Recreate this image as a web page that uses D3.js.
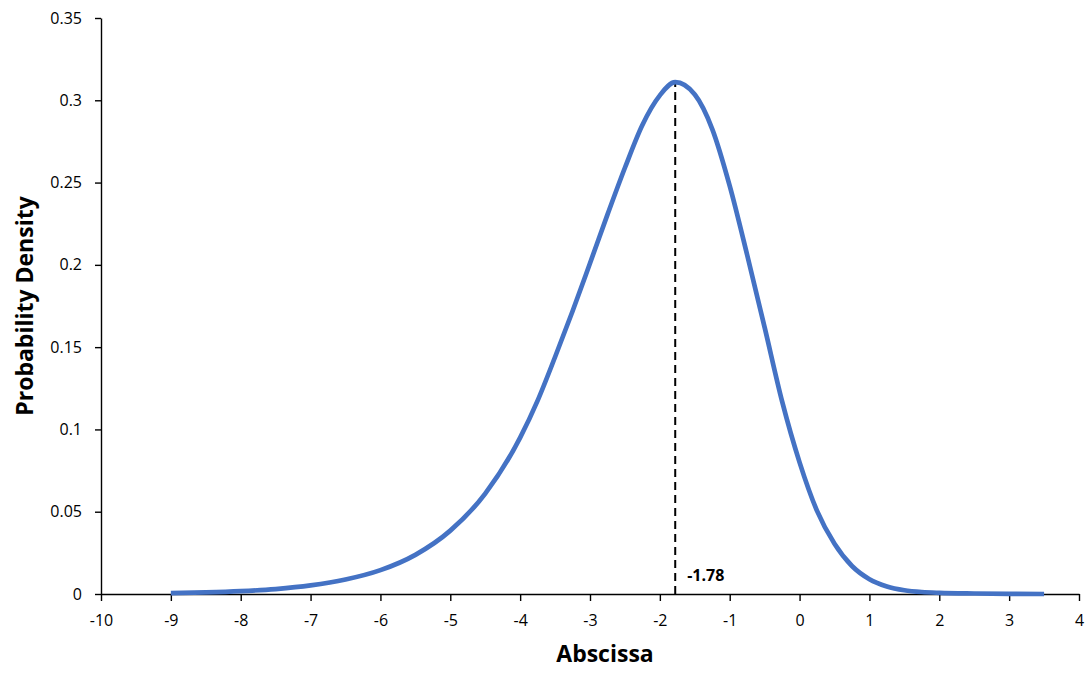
<!DOCTYPE html>
<html>
<head>
<meta charset="utf-8">
<script src="https://cdn.jsdelivr.net/npm/d3@7"></script>
<style>
  body { margin: 0; background: #fff; }
  svg { display: block; font-family: "Open Sans", sans-serif; }
  .axis path, .axis line { stroke: #000; stroke-width: 1.4; }
  .axis text { font-size: 16px; fill: #000; }
</style>
</head>
<body>
<svg id="chart" width="1090" height="673"></svg>
<script>
// values
var abscissa = [-9, -8.5, -8, -7.5, -7, -6.5, -6, -5.5, -5, -4.5, -4, -3.75, -3.5, -3.25,
    -3, -2.75, -2.5, -2.25, -2, -1.78, -1.5, -1.25, -1, -0.75, -0.5, -0.25,
    0, 0.25, 0.5, 0.75, 1, 1.25, 1.5, 1.75, 2, 2.5, 3, 3.5];
var density = [0.00053, 0.00095, 0.0017, 0.0030, 0.0052, 0.0088, 0.0145, 0.0238, 0.0385, 0.061, 0.095, 0.1175, 0.144, 0.1718,
    0.201, 0.2305, 0.259, 0.285, 0.303, 0.311, 0.3035, 0.2825, 0.248, 0.206, 0.162, 0.117,
    0.080, 0.0505, 0.0305, 0.017, 0.009, 0.0046, 0.0023, 0.0012, 0.0007, 0.0003, 0.0001, 0.0];

var modeX = -1.78;
var modeY = 0.311;
var modeLabel = "-1.78";

var xTicks = [-10, -9, -8, -7, -6, -5, -4, -3, -2, -1, 0, 1, 2, 3, 4];
var xTickLabels = ["-10", "-9", "-8", "-7", "-6", "-5", "-4", "-3", "-2", "-1", "0", "1", "2", "3", "4"];
var yTicks = [0, 0.05, 0.1, 0.15, 0.2, 0.25, 0.3, 0.35];
var yTickLabels = ["0", "0.05", "0.1", "0.15", "0.2", "0.25", "0.3", "0.35"];

var xTitle = "Abscissa";
var yTitle = "Probability Density";

var svg = d3.select("#chart");
var margin = {top: 18, right: 11, bottom: 79, left: 101};
var width = +svg.attr("width") - margin.left - margin.right;
var height = +svg.attr("height") - margin.top - margin.bottom;

var x = d3.scaleLinear().domain([-10, 4]).range([0, width]);
var y = d3.scaleLinear().domain([0, 0.35]).range([height, 0]);

var g = svg.append("g")
    .attr("transform", "translate(" + margin.left + "," + margin.top + ")");

var points = abscissa.map(function (v, i) { return {x: v, y: density[i]}; });

var line = d3.line()
    .x(function (d) { return x(d.x); })
    .y(function (d) { return y(d.y); })
    .curve(d3.curveMonotoneX);

// axes
g.append("g")
    .attr("class", "axis axis--x")
    .attr("transform", "translate(0," + height + ")")
    .call(d3.axisBottom(x)
        .tickValues(xTicks)
        .tickFormat(function (d, i) { return xTickLabels[i]; })
        .tickSize(7)
        .tickSizeOuter(0)
        .tickPadding(14));

g.append("g")
    .attr("class", "axis axis--y")
    .call(d3.axisLeft(y)
        .tickValues(yTicks)
        .tickFormat(function (d, i) { return yTickLabels[i]; })
        .tickSize(6)
        .tickSizeOuter(0)
        .tickPadding(13));

g.selectAll(".axis text").attr("font-family", "Open Sans, sans-serif");

// mode marker
g.append("line")
    .attr("x1", x(modeX))
    .attr("x2", x(modeX))
    .attr("y1", y(0))
    .attr("y2", y(modeY))
    .attr("stroke", "#000")
    .attr("stroke-width", 2)
    .attr("stroke-dasharray", "8,5");

g.append("path")
    .datum(points)
    .attr("fill", "none")
    .attr("stroke", "#4472C4")
    .attr("stroke-width", 4.7)
    .attr("stroke-linecap", "butt")
    .attr("d", line);

g.append("text")
    .attr("x", x(modeX) + 12)
    .attr("y", y(0) - 13)
    .attr("font-size", 16)
    .attr("font-weight", "bold")
    .attr("fill", "#000")
    .text(modeLabel);

// titles
svg.append("text")
    .attr("x", 605)
    .attr("y", 662)
    .attr("text-anchor", "middle")
    .attr("font-size", 23)
    .attr("font-weight", "bold")
    .text(xTitle);

svg.append("text")
    .attr("transform", "translate(33," + (margin.top + height / 2) + ") rotate(-90)")
    .attr("text-anchor", "middle")
    .attr("font-size", 23)
    .attr("font-weight", "bold")
    .text(yTitle);
</script>
</body>
</html>
